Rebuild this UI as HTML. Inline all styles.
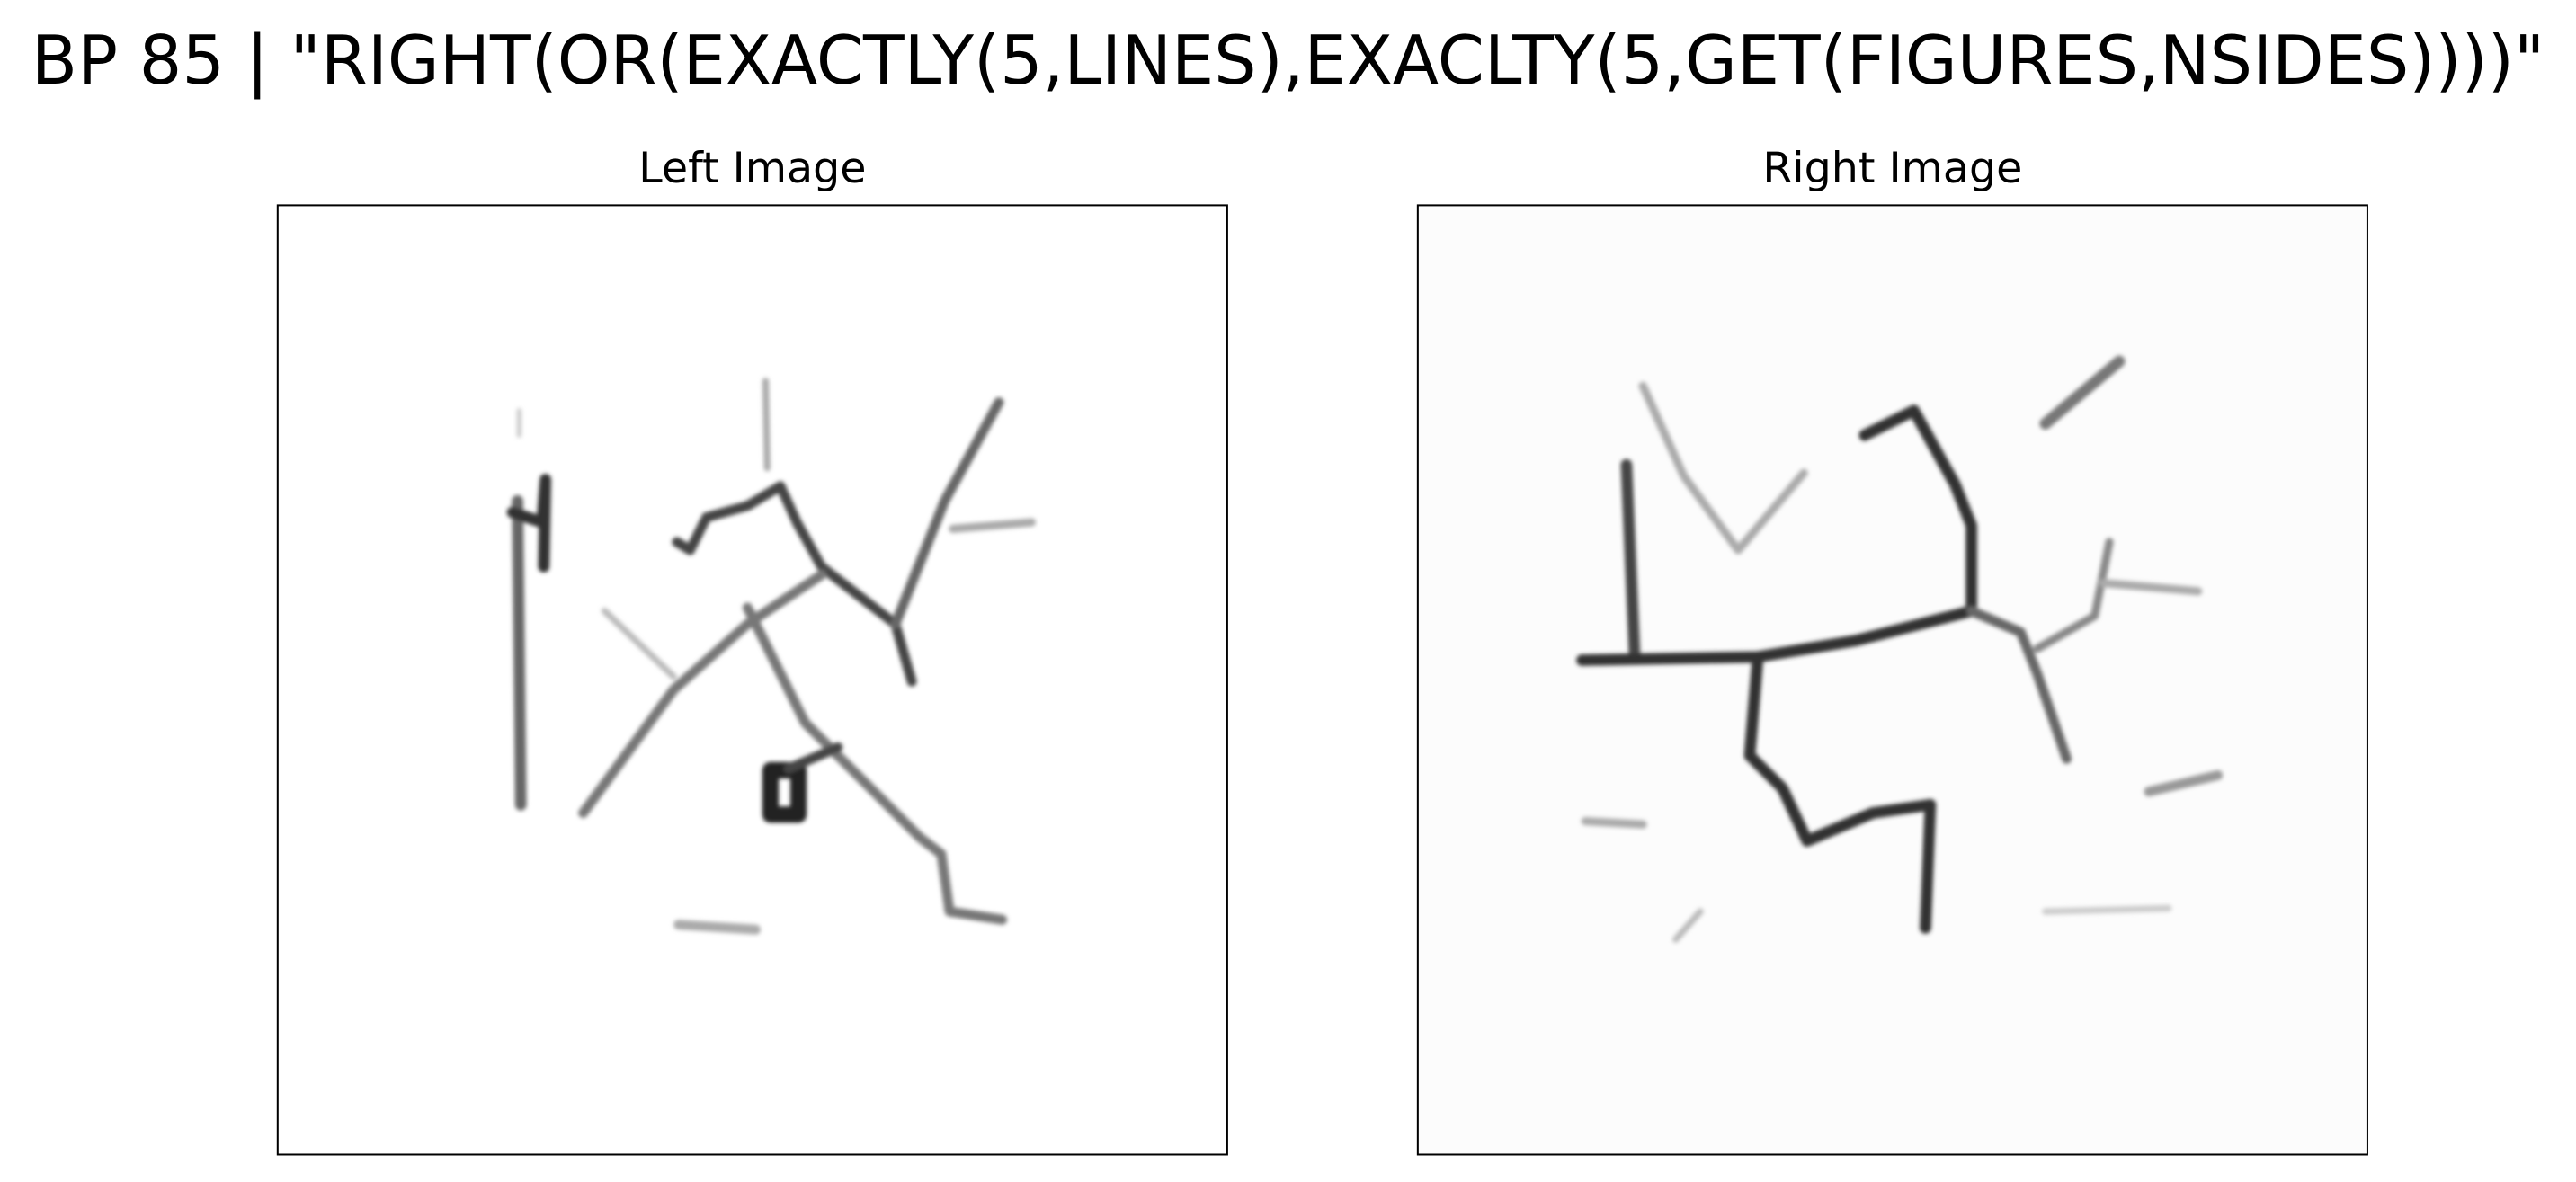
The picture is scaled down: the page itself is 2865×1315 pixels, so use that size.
<!DOCTYPE html>
<html><head><meta charset="utf-8"><style>
html,body{margin:0;padding:0;background:#fff;width:2865px;height:1315px;overflow:hidden}
svg{display:block}
text{font-family:"DejaVu Sans","Liberation Sans",sans-serif;fill:#000}
</style></head><body>
<svg id="fig" width="2865" height="1315" viewBox="0 0 1568 719.7" xmlns="http://www.w3.org/2000/svg">
<defs><filter id="blur" x="-10%" y="-10%" width="120%" height="120%"><feGaussianBlur stdDeviation="1.3"/></filter></defs>
<text x="784" y="51" font-size="41" text-anchor="middle" textLength="1530" lengthAdjust="spacingAndGlyphs">BP 85 | "RIGHT(OR(EXACTLY(5,LINES),EXACLTY(5,GET(FIGURES,NSIDES))))"</text>
<text x="458" y="111" font-size="26" text-anchor="middle">Left Image</text>
<text x="1152" y="111" font-size="26" text-anchor="middle">Right Image</text>
<rect x="863" y="125" width="578" height="578" fill="#fcfcfc"/>
<g id="left" filter="url(#blur)" fill="none" stroke-linecap="round" stroke-linejoin="round"></g>
<g id="right" filter="url(#blur)" fill="none" stroke-linecap="round" stroke-linejoin="round"></g>
<rect x="169" y="125" width="578" height="578" fill="none" stroke="#000" stroke-width="1.1"/>
<rect x="863" y="125" width="578" height="578" fill="none" stroke="#000" stroke-width="1.1"/>
</svg>
<script>
// stroke polylines: [points], width, gray
const leftStrokes = [
 [[[316,250],[316,265]],3,"#ccc"],
 [[[315,305],[317,490]],7,"#666"],
 [[[312,312],[330,318],[332,292],[331,345]],7,"#333"],
 [[[466,232],[467,285]],4,"#aaa"],
 [[[412,330],[420,335],[430,315],[455,308],[475,296],[485,318],[500,345],[545,380],[555,415]],6,"#444"],
 [[[545,380],[575,305],[608,245]],6,"#666"],
 [[[580,322],[628,318]],5,"#aaa"],
 [[[355,495],[410,420],[455,380],[500,350]],6,"#777"],
 [[[368,372],[410,412]],4,"#bbb"],
 [[[455,370],[490,440],[510,460],[560,510],[573,520],[578,555],[610,560]],6,"#777"],
 [[[469,469],[486,469],[486,496],[469,496],[469,469]],10,"#222"],
 [[[480,468],[510,455]],6,"#444"],
 [[[413,563],[460,566]],6,"#aaa"]
];
const rightStrokes = [
 [[[1000,235],[1025,290],[1058,335],[1098,288]],5,"#aaa"],
 [[[990,283],[995,400]],7,"#444"],
 [[[963,402],[1070,400],[1130,390],[1200,372],[1200,320],[1190,295],[1165,250],[1135,265]],7,"#333"],
 [[[1070,400],[1065,460],[1085,480],[1100,512],[1140,495],[1175,490],[1172,565]],7,"#333"],
 [[[1200,372],[1230,385],[1240,410],[1258,462]],6,"#666"],
 [[[1240,395],[1275,375],[1284,330]],5,"#888"],
 [[[1280,355],[1338,360]],5,"#aaa"],
 [[[1245,258],[1290,220]],7,"#777"],
 [[[1308,482],[1350,472]],6,"#999"],
 [[[965,500],[1000,502]],5,"#aaa"],
 [[[1020,572],[1035,555]],4,"#bbb"],
 [[[1245,555],[1320,553]],4,"#ccc"]
];
function draw(id, strokes){
 const g=document.getElementById(id);
 strokes.forEach(s=>{
  const p=document.createElementNS("http://www.w3.org/2000/svg","polyline");
  
  
  p.setAttribute("points",s[0].map(q=>q.join(",")).join(" "));
  p.setAttribute("stroke-width",s[1]);
  p.setAttribute("stroke",s[2]);
  g.appendChild(p);
 });
}
draw("left",leftStrokes);
draw("right",rightStrokes);
</script>
</body></html>
